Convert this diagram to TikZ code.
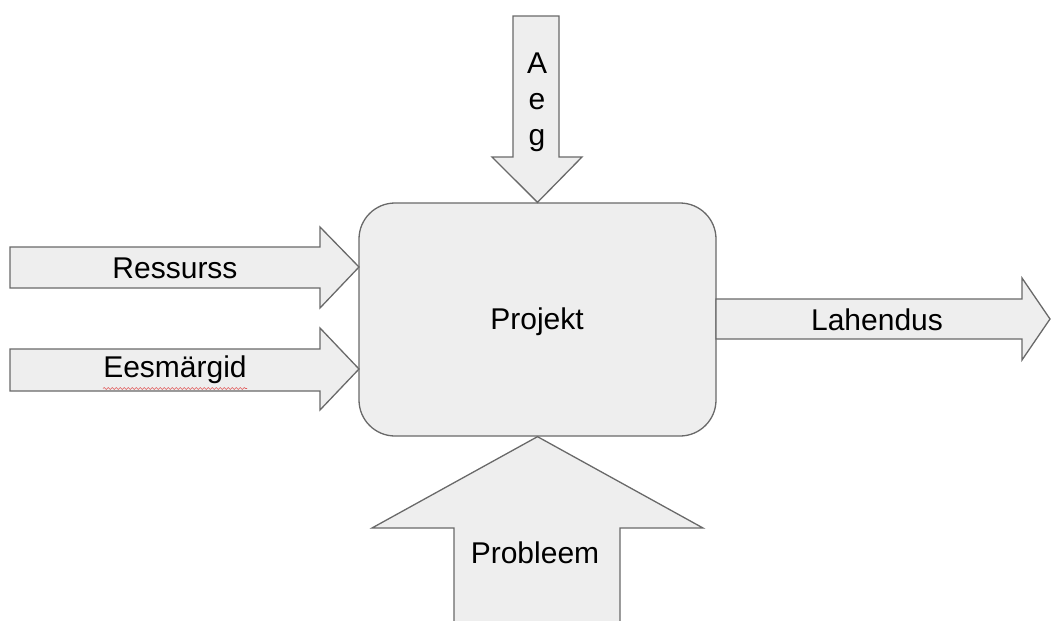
\documentclass[tikz,border=0pt]{standalone}
\usepackage{fontspec}
\setmainfont{Liberation Sans}
\usetikzlibrary{decorations.pathmorphing}
\definecolor{edgec}{RGB}{105,105,105}
\definecolor{fillc}{RGB}{238,238,238}
\definecolor{squig}{RGB}{225,90,90}
\tikzset{
  blockarrow/.style={draw=edgec, fill=fillc, line width=1.3pt, line join=miter},
  lbl/.style={font=\fontsize{30}{36}\selectfont, anchor=base, inner sep=0pt, text=black},
  procbox/.style={draw=edgec, fill=fillc, line width=1.3pt, rounded corners=36pt, minimum width=357pt, minimum height=233pt, inner sep=0pt}
}
\begin{document}
\begin{tikzpicture}[x=1pt,y=-1pt]
\useasboundingbox (0,0) rectangle (1052,621);
\clip (0,0) rectangle (1052,621);
\node[procbox] (proj) at (537.5,319.5) {};
\node[lbl] (projlbl) at (537,329) {Projekt};
% top arrow
\draw[blockarrow] (513,16) -- (559,16) -- (559,157) -- (582,157) -- (proj.north) -- (492,157) -- (513,157) -- cycle;
\node[lbl] (ta) at (537,73) {A};
\node[lbl] (te) at (537,109) {e};
\node[lbl] (tg) at (537,145) {g};
% left arrows
\coordinate (rtip) at (359,267);
\coordinate (etip) at (359,369);
\draw[blockarrow] (10,247) -- (320,247) -- (320,227) -- (rtip) -- (320,308) -- (320,288) -- (10,288) -- cycle;
\node[lbl] (res) at (175,278) {Ressurss};
\draw[blockarrow] (10,349) -- (320,349) -- (320,328) -- (etip) -- (320,410) -- (320,391) -- (10,391) -- cycle;
\node[lbl] (ees) at (175,377) {Eesmärgid};
\draw[squig, line width=0.6pt, decorate, decoration={snake, amplitude=1pt, segment length=4pt}] (103,388.5) -- (247,388.5);
% right arrow
\coordinate (ltip) at (1050,319);
\draw[blockarrow] (716,299) -- (1022,299) -- (1022,278) -- (ltip) -- (1022,360) -- (1022,339) -- (716,339) -- cycle;
\node[lbl] (lah) at (877,330) {Lahendus};
% bottom arrow
\draw[blockarrow] (proj.south) -- (703,528) -- (620,528) -- (620,640) -- (454,640) -- (454,528) -- (372,528) -- cycle;
\node[lbl] (prob) at (535,563) {Probleem};
\end{tikzpicture}
\end{document}
